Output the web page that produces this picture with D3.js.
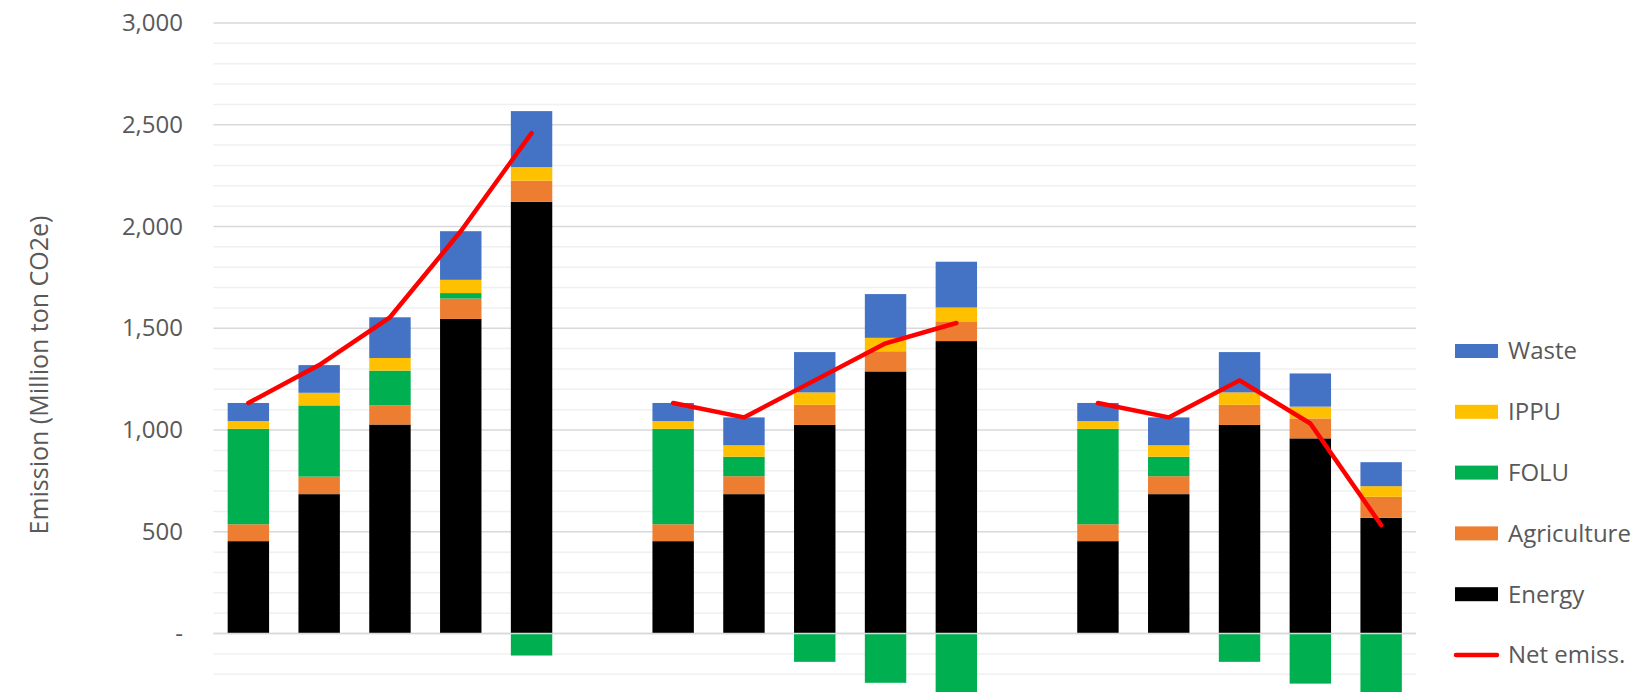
<!DOCTYPE html>
<html>
<head>
<meta charset="utf-8">
<script src="https://cdn.jsdelivr.net/npm/d3@7"></script>
<style>
  body { margin: 0; background: #fff; }
  text { font-family: "Open Sans", sans-serif; }
</style>
</head>
<body>
<div id="chart"></div>
<script>
// 3 scenarios x 5 years, with an empty slot between scenarios
var slots = ["A1", "A2", "A3", "A4", "A5", "gap1",
             "B1", "B2", "B3", "B4", "B5", "gap2",
             "C1", "C2", "C3", "C4", "C5"];
var groups = [["A1", "A2", "A3", "A4", "A5"],
              ["B1", "B2", "B3", "B4", "B5"],
              ["C1", "C2", "C3", "C4", "C5"]];
var bars = groups[0].concat(groups[1], groups[2]);

var energy      = [454, 685, 1027, 1546, 2121, 454, 685, 1025, 1288, 1437, 454, 685, 1025, 959, 569];
var agriculture = [83, 86, 94, 100, 104, 83, 88, 99, 99, 97, 83, 88, 99, 98, 103];
var folu        = [469, 350, 171, 27, -108, 469, 96, -139, -242, -301, 469, 96, -139, -246, -309];
var ippu        = [38, 62, 62, 65, 67, 38, 56, 61, 66, 68, 38, 56, 61, 58, 52];
var waste       = [89, 136, 200, 239, 275, 89, 137, 198, 215, 225, 89, 137, 198, 163, 118];
var netEmiss    = [1133, 1319, 1554, 1977, 2459, 1133, 1062, 1244, 1426, 1526, 1133, 1062, 1244, 1032, 533];

var yTicks = [0, 500, 1000, 1500, 2000, 2500, 3000];

var sectors = ["Energy", "Agriculture", "FOLU", "IPPU", "Waste"];
var colors = {Energy: "#000000", Agriculture: "#ED7D31", FOLU: "#00B050", IPPU: "#FFC000", Waste: "#4472C4"};

var w = 1634, h = 692;

var table = bars.map(function(k, i) {
  return {slot: k, Energy: energy[i], Agriculture: agriculture[i], FOLU: folu[i],
          IPPU: ippu[i], Waste: waste[i], net: netEmiss[i]};
});

var xScale = d3.scaleBand()
    .domain(slots)
    .range([213.5, 1416])
    .paddingInner(0.415)
    .paddingOuter(0.2);

var yScale = d3.scaleLinear()
    .domain([-300, 3000])
    .range([694.6, 23]);

var svg = d3.select("#chart").append("svg")
    .attr("width", w)
    .attr("height", h);

// gridlines, minor every 100, major every 500
var grid = svg.append("g");
grid.selectAll("line")
    .data(d3.range(-300, 3001, 100))
  .enter().append("line")
    .attr("x1", 213.5)
    .attr("x2", 1416)
    .attr("y1", function(d) { return yScale(d); })
    .attr("y2", function(d) { return yScale(d); })
    .attr("stroke", function(d) { return d % 500 === 0 ? "#d9d9d9" : "#f0f0f0"; })
    .attr("stroke-width", 1.5);

var series = d3.stack()
    .keys(sectors)
    .offset(d3.stackOffsetDiverging)(table);

svg.append("g").selectAll("g")
    .data(series)
  .enter().append("g")
    .attr("fill", function(d) { return colors[d.key]; })
  .selectAll("rect")
    .data(function(d) { return d; })
  .enter().append("rect")
    .attr("x", function(d) { return xScale(d.data.slot); })
    .attr("width", xScale.bandwidth())
    .attr("y", function(d) { return yScale(Math.max(d[0], d[1])); })
    .attr("height", function(d) { return Math.abs(yScale(d[0]) - yScale(d[1])); });

// zero line on top
svg.append("line")
    .attr("x1", 213.5)
    .attr("x2", 1416)
    .attr("y1", yScale(0))
    .attr("y2", yScale(0))
    .attr("stroke", "#d9d9d9")
    .attr("stroke-width", 1.5);

var line = d3.line()
    .x(function(d) { return xScale(d.slot) + xScale.bandwidth() / 2; })
    .y(function(d) { return yScale(d.net); });

groups.forEach(function(g) {
  svg.append("path")
      .datum(table.filter(function(d) { return g.indexOf(d.slot) >= 0; }))
      .attr("fill", "none")
      .attr("stroke", "#FF0000")
      .attr("stroke-width", 4.5)
      .attr("stroke-linejoin", "round")
      .attr("stroke-linecap", "round")
      .attr("d", line);
});

// y axis
var yAxis = svg.append("g")
    .attr("transform", "translate(183,0)")
    .call(d3.axisLeft(yScale)
      .tickValues(yTicks)
      .tickSize(0)
      .tickPadding(0)
      .tickFormat(function(d) { return d === 0 ? "-  " : d3.format(",")(d); }));
yAxis.select(".domain").remove();
yAxis.selectAll("text")
    .attr("fill", "#595959")
    .style("font-size", "24px")
    .style("font-family", "'Open Sans', sans-serif");

svg.append("text")
    .attr("transform", "translate(39,375) rotate(-90)")
    .attr("text-anchor", "middle")
    .attr("dy", "0.35em")
    .attr("fill", "#595959")
    .style("font-size", "25px")
    .text("Emission (Million ton CO2e)");

// legend
var legendItems = ["Waste", "IPPU", "FOLU", "Agriculture", "Energy", "Net emiss."];
var legend = svg.append("g").selectAll("g")
    .data(legendItems)
  .enter().append("g")
    .attr("transform", function(d, i) { return "translate(1455," + (351 + i * 60.8) + ")"; });

legend.filter(function(d) { return d !== "Net emiss."; })
  .append("rect")
    .attr("x", 0)
    .attr("y", -7)
    .attr("width", 43)
    .attr("height", 14)
    .attr("fill", function(d) { return colors[d]; });

legend.filter(function(d) { return d === "Net emiss."; })
  .append("line")
    .attr("x1", 1)
    .attr("x2", 42)
    .attr("stroke", "#FF0000")
    .attr("stroke-width", 4.5)
    .attr("stroke-linecap", "round");

legend.append("text")
    .attr("x", 53)
    .attr("dy", "0.35em")
    .attr("fill", "#595959")
    .style("font-size", "24px")
    .text(function(d) { return d; });
</script>
</body>
</html>
